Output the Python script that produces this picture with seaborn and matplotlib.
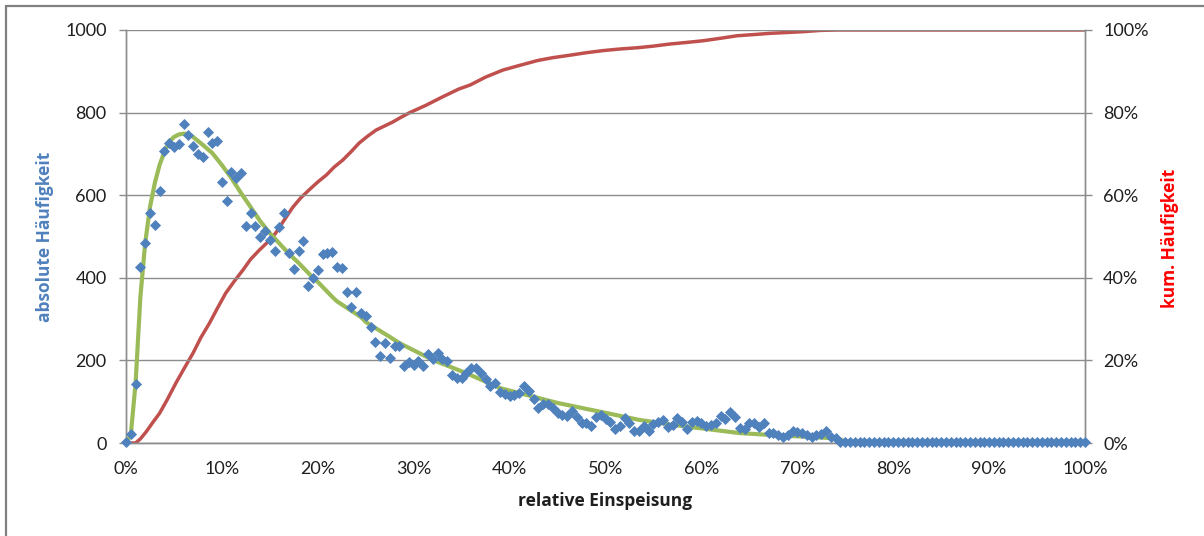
import numpy as np
import pandas as pd
import matplotlib
matplotlib.use("Agg")
import matplotlib.pyplot as plt
from matplotlib.lines import Line2D
from matplotlib.ticker import FuncFormatter
import seaborn as sns

# ---------------- data ----------------
# relative feed-in (percent), 0.5 % bins
x_rel = np.arange(0, 100.5, 0.5)
abs_freq = [
    3, 22, 142, 425, 485, 557, 528, 609, 706, 726,
    716, 723, 772, 746, 720, 699, 693, 753, 726, 732,
    633, 587, 655, 641, 653, 526, 557, 525, 499, 513,
    491, 465, 523, 557, 460, 421, 465, 489, 380, 400,
    419, 458, 460, 462, 426, 424, 366, 329, 366, 315,
    307, 281, 245, 211, 242, 206, 235, 235, 186, 195,
    189, 199, 186, 215, 203, 218, 203, 199, 165, 157,
    157, 169, 182, 182, 169, 155, 138, 145, 123, 119,
    114, 116, 121, 138, 126, 107, 85, 94, 94, 85,
    73, 68, 65, 77, 63, 48, 48, 41, 63, 68,
    58, 51, 34, 41, 61, 48, 29, 29, 41, 29,
    46, 51, 56, 39, 44, 61, 51, 34, 51, 53,
    48, 41, 44, 48, 65, 58, 75, 63, 36, 34,
    48, 48, 39, 48, 24, 24, 19, 15, 19, 29,
    27, 24, 19, 15, 19, 22, 29, 15, 12, 3,
    3, 3, 3, 3, 3, 3, 3, 3, 3, 3,
    3, 3, 3, 3, 3, 3, 3, 3, 3, 3,
    3, 3, 3, 3, 3, 3, 3, 3, 3, 3,
    3, 3, 3, 3, 3, 3, 3, 3, 3, 3,
    3, 3, 3, 3, 3, 3, 3, 3, 3, 3,
    3,
]

# fitted (green) curve
fit_x = [0, 0.5, 1.0, 1.5, 2.0, 2.5, 3.0, 3.5, 4.0, 4.5, 5.0, 5.5, 6.0, 6.5, 7.0,
         8.0, 9.0, 10.0, 11.0, 12.0, 13.0, 14.0, 15.0, 17.0, 18.0, 19.5, 20.0,
         21.5, 22.0, 24.5, 25.0, 27.5, 28.5, 32.0, 35.5, 39.0, 42.5, 45.0, 50.0,
         53.5, 57.0, 60.5, 64.0, 67.5, 71.0, 73.5, 74.5, 75.5, 100.0]
fit_y = [0, 20, 145, 354, 484, 571, 629, 673, 705, 729, 741, 747, 749, 748, 741,
         722, 702, 673, 641, 605, 571, 537, 508, 458, 436, 400, 390,
         354, 343, 305, 293, 257, 242, 201, 169, 133, 112, 97, 73,
         56, 44, 34, 24, 19, 15, 12, 7, 3, 3]

# cumulative frequency (red), percent
cum_x = [0, 1.0, 1.5, 2.1, 2.8, 3.5, 4.3, 5.2, 6.1, 7.0, 7.8, 8.7, 9.5, 10.4, 11.3,
         12.2, 13.0, 13.9, 14.8, 15.6, 16.5, 17.4, 18.2, 19.1, 20.0, 20.9, 21.7,
         22.6, 23.5, 24.3, 25.2, 26.1, 27.0, 27.8, 28.7, 29.5, 31.3, 33.0, 34.7,
         35.9, 37.5, 39.3, 41.0, 42.9, 44.5, 46.3, 48.0, 49.7, 51.5, 53.3, 55.0,
         56.7, 58.5, 60.2, 62.0, 63.7, 65.5, 67.2, 69.0, 70.6, 72.4, 74.1, 100.0]
cum_y = [0, 0, 1.0, 2.7, 5.0, 7.2, 10.5, 14.5, 18.2, 21.8, 25.5, 29.0, 32.5, 36.3, 39.2,
         41.9, 44.5, 46.7, 48.7, 50.8, 54.0, 57.1, 59.3, 61.3, 63.2, 64.9, 66.8,
         68.5, 70.6, 72.6, 74.3, 75.8, 76.8, 77.7, 78.9, 79.9, 81.8, 83.8, 85.7,
         86.7, 88.6, 90.3, 91.4, 92.6, 93.3, 93.9, 94.5, 95.0, 95.4, 95.7, 96.1,
         96.6, 97.0, 97.4, 98.0, 98.6, 98.9, 99.2, 99.4, 99.6, 99.9, 100.0, 100.0]

left_ticks = [0, 200, 400, 600, 800, 1000]
right_ticks = [0, 20, 40, 60, 80, 100]
x_ticks = [0, 10, 20, 30, 40, 50, 60, 70, 80, 90, 100]

# ---------------- style ----------------
sns.set_style("white")
plt.rcParams['font.family'] = ['Lato', 'DejaVu Sans']

BLUE = "#4F81BD"
GREEN = "#9BBB59"
RED = "#C0504D"
GRID = "#8C8C8C"
TXT = "#1F1F1F"
LABEL_FONT = ['Open Sans', 'DejaVu Sans']

fig = plt.figure(figsize=(12.04, 5.36), dpi=100)
ax = fig.add_axes([126 / 1204, 93 / 536, 959 / 1204, 413 / 536])
ax2 = ax.twinx()

df_pts = pd.DataFrame({"x": x_rel, "y": abs_freq})
df_fit = pd.DataFrame({"x": fit_x, "y": fit_y})
df_cum = pd.DataFrame({"x": cum_x, "y": cum_y})

sns.lineplot(data=df_cum, x="x", y="y", ax=ax2, color=RED, linewidth=2.5,
             zorder=2, sort=False)
sns.lineplot(data=df_fit, x="x", y="y", ax=ax, color=GREEN, linewidth=3.0,
             zorder=3, sort=False)
sns.scatterplot(data=df_pts, x="x", y="y", ax=ax, color=BLUE, marker="D",
                s=32, linewidth=0, zorder=4, clip_on=False)

ax.set_zorder(ax2.get_zorder() + 1)
ax.patch.set_visible(False)

ax.set_xlim(0, 100)
ax.set_ylim(0, 1000)
ax2.set_ylim(0, 100)
ax.set_xticks(x_ticks)
ax.set_yticks(left_ticks)
ax2.set_yticks(right_ticks)
ax.xaxis.set_major_formatter(FuncFormatter(lambda v, p: f"{int(round(v))}%"))
ax2.yaxis.set_major_formatter(FuncFormatter(lambda v, p: f"{int(round(v))}%"))

ax.yaxis.grid(True, color=GRID, linewidth=1.0)
ax.xaxis.grid(False)
ax2.grid(False)
ax.set_axisbelow(True)

for a in (ax, ax2):
    a.spines["top"].set_visible(False)
    for side in ("left", "right", "bottom"):
        a.spines[side].set_color(GRID)
        a.spines[side].set_linewidth(1.0)

ax.tick_params(axis="y", which="major", direction="out", length=5, width=1,
               color=GRID, labelsize=13, labelcolor=TXT, pad=9)
ax.tick_params(axis="x", which="major", direction="out", length=5, width=1,
               color=GRID, labelsize=13, labelcolor=TXT, pad=8)
ax2.tick_params(axis="y", direction="out", length=5, width=1, color=GRID,
                labelsize=13, labelcolor=TXT, pad=8)

ax.set_ylabel("")
ax2.set_ylabel("")
ax2.set_xlabel("")
ax.set_xlabel("relative Einspeisung", fontsize=12.5, fontweight="bold",
              color=TXT, labelpad=11, family=LABEL_FONT)

fig.text(45 / 1204, 1 - 237 / 536, "absolute Häufigkeit", rotation=90,
         ha="center", va="center", fontsize=12.5, fontweight="bold", color=BLUE,
         family=LABEL_FONT)
fig.text(1170 / 1204, 1 - 238 / 536, "kum. Häufigkeit", rotation=90,
         ha="center", va="center", fontsize=12.5, fontweight="bold", color="#FF0000",
         family=LABEL_FONT)

# outer chart frame (left and top edges visible in the crop)
fig.add_artist(Line2D([6 / 1204, 6 / 1204], [0, 1 - 6 / 536], transform=fig.transFigure,
                      color="#808080", linewidth=1.6))
fig.add_artist(Line2D([6 / 1204, 1], [1 - 6 / 536, 1 - 6 / 536], transform=fig.transFigure,
                      color="#808080", linewidth=1.6))

fig.savefig("out.png", dpi=100)
